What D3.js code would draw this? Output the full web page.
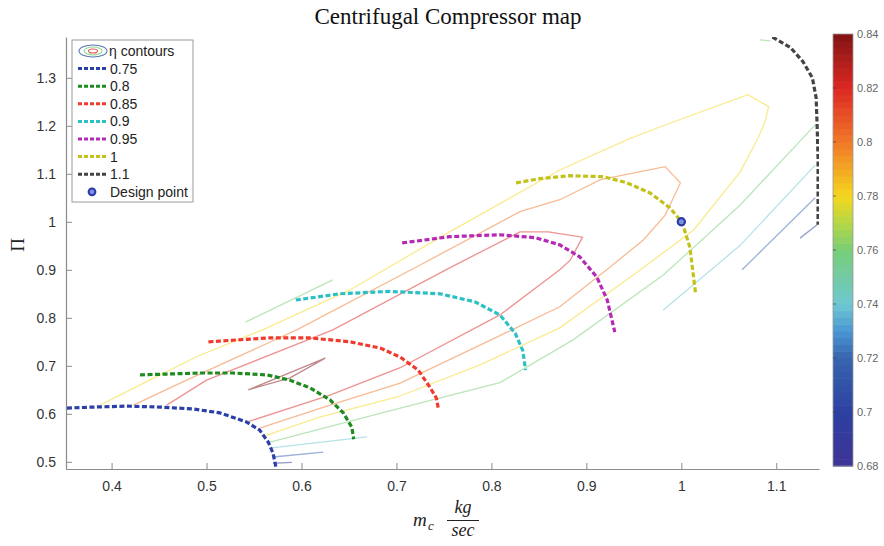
<!DOCTYPE html>
<html><head><meta charset="utf-8">
<script src="https://cdn.jsdelivr.net/npm/d3@7"></script>
<style>body{margin:0;background:#fff} svg{display:block}</style>
</head><body>
<svg id="chart" width="884" height="546"></svg>
<script>
// ---------- data ----------
const xTicks = [0.4, 0.5, 0.6, 0.7, 0.8, 0.9, 1, 1.1];
const yTicks = [0.5, 0.6, 0.7, 0.8, 0.9, 1, 1.1, 1.2, 1.3];
const cbTicks = [0.68, 0.7, 0.72, 0.74, 0.76, 0.78, 0.8, 0.82, 0.84];
const speedNames = ["0.75", "0.8", "0.85", "0.9", "0.95", "1", "1.1"];

// speed lines [m_c, Pi]
const speed075 = [[0.353,0.612],[0.380,0.614],[0.416,0.616],[0.451,0.614],[0.486,0.610],[0.514,0.602],[0.542,0.583],[0.556,0.566],[0.565,0.541],[0.570,0.518],[0.573,0.490]];
const speed080 = [[0.430,0.681],[0.493,0.685],[0.528,0.685],[0.564,0.681],[0.588,0.670],[0.609,0.654],[0.630,0.629],[0.644,0.602],[0.653,0.572],[0.655,0.547]];
const speed085 = [[0.502,0.750],[0.564,0.758],[0.609,0.758],[0.651,0.750],[0.683,0.737],[0.704,0.718],[0.723,0.691],[0.735,0.656],[0.742,0.633],[0.744,0.612]];
const speed090 = [[0.594,0.837],[0.640,0.850],[0.693,0.855],[0.746,0.850],[0.783,0.833],[0.809,0.806],[0.825,0.768],[0.833,0.732],[0.836,0.691]];
const speed095 = [[0.706,0.956],[0.756,0.969],[0.809,0.973],[0.846,0.967],[0.872,0.952],[0.893,0.927],[0.911,0.885],[0.922,0.837],[0.930,0.770]];
const speed100 = [[0.826,1.081],[0.851,1.090],[0.883,1.096],[0.918,1.094],[0.943,1.081],[0.967,1.060],[0.988,1.029],[1.001,0.998],[1.009,0.947],[1.012,0.899],[1.015,0.851]];
const speed110 = [[1.096,1.385],[1.115,1.363],[1.128,1.334],[1.138,1.300],[1.142,1.258],[1.143,1.202],[1.144,1.133],[1.144,1.062],[1.144,0.994]];
const speedColors = ["#2a3fa8", "#1f8a1f", "#f03a2e", "#2cc0c4", "#b52ab5", "#c2c21a", "#444444"];

// efficiency contours: level + polyline
const contourLevels = [0.78, 0.80, 0.82, 0.84, 0.76, 0.76, 0.76, 0.74, 0.74, 0.72, 0.72, 0.70, 0.70];
const c078 = [[0.388,0.618],[0.440,0.670],[0.493,0.722],[0.559,0.775],[0.651,0.858],[0.756,0.979],[0.872,1.108],[0.943,1.171],[0.978,1.198],[1.070,1.265],[1.092,1.240],[1.088,1.208],[1.081,1.175],[1.062,1.104],[1.013,0.983],[0.957,0.900],[0.872,0.779],[0.788,0.702],[0.701,0.635],[0.619,0.593],[0.558,0.552]];
const c080 = [[0.423,0.618],[0.479,0.670],[0.595,0.775],[0.725,0.910],[0.830,1.021],[0.872,1.046],[0.915,1.088],[0.983,1.115],[0.999,1.081],[0.983,1.014],[0.960,0.962],[0.925,0.906],[0.872,0.823],[0.788,0.743],[0.704,0.664],[0.630,0.618],[0.556,0.570]];
const c082 = [[0.458,0.618],[0.500,0.670],[0.633,0.775],[0.756,0.904],[0.830,0.979],[0.860,0.979],[0.896,0.968],[0.883,0.920],[0.872,0.900],[0.809,0.806],[0.704,0.696],[0.630,0.639],[0.543,0.583]];
const c084 = [[0.544,0.650],[0.625,0.716],[0.588,0.675],[0.544,0.650]];
const c076a = [[0.541,0.791],[0.633,0.879]];
const c076b = [[1.083,1.379],[1.094,1.377]];
const c076c = [[0.567,0.541],[0.704,0.612],[0.809,0.665],[0.886,0.754],[0.981,0.889],[1.062,1.035],[1.141,1.202]];
const c074a = [[0.569,0.529],[0.669,0.552]];
const c074b = [[0.981,0.816],[1.062,0.951],[1.141,1.118]];
const c072a = [[0.570,0.510],[0.623,0.520]];
const c072b = [[1.064,0.900],[1.141,1.050]];
const c070a = [[0.570,0.497],[0.590,0.499]];
const c070b = [[1.125,0.966],[1.143,0.994]];
const designPoint = [1.0, 1.0];

// ---------- drawing ----------
const speeds = [speed075, speed080, speed085, speed090, speed095, speed100, speed110];
const contours = [c078, c080, c082, c084, c076a, c076b, c076c, c074a, c074b, c072a, c072b, c070a, c070b];

const svg = d3.select("#chart");
const L = 66, R = 819, T = 37, B = 469;
const x = d3.scaleLinear().domain([0.352, 1.145]).range([L, R]);
const y = d3.scaleLinear().domain([0.485, 1.385]).range([B, T]);

const cmap = d3.scaleLinear()
  .domain([0.68, 0.70, 0.72, 0.73, 0.74, 0.76, 0.77, 0.78, 0.80, 0.82, 0.84])
  .range(["#3e3496", "#2d41a0", "#3764af", "#4b96d2", "#6ec8d2", "#78cd78", "#b4d746", "#f5d71e", "#f07828", "#dc2823", "#821414"])
  .interpolate(d3.interpolateRgb).clamp(true);

svg.append("defs").append("clipPath").attr("id", "clip")
  .append("rect").attr("x", L).attr("y", T).attr("width", R - L).attr("height", B - T);

const line = d3.line().x(d => x(d[0])).y(d => y(d[1]));
const plot = svg.append("g").attr("clip-path", "url(#clip)");

plot.selectAll("path.cont").data(contours).join("path")
  .attr("class", "cont")
  .attr("d", line)
  .attr("fill", "none")
  .attr("stroke", (d, i) => cmap(contourLevels[i]))
  .attr("stroke-opacity", 0.5)
  .attr("stroke-width", 1.3);

plot.selectAll("path.speed").data(speeds).join("path")
  .attr("class", "speed")
  .attr("d", line)
  .attr("fill", "none")
  .attr("stroke", (d, i) => speedColors[i])
  .attr("stroke-width", 3.2)
  .attr("stroke-dasharray", "5,2.5");

plot.append("circle")
  .attr("cx", x(designPoint[0])).attr("cy", y(designPoint[1])).attr("r", 3.6)
  .attr("fill", "#7f8fe0").attr("stroke", "#2a3aa8").attr("stroke-width", 2.2);

// axes
const tickFont = "'Liberation Sans', Arial, sans-serif";
const xAxis = svg.append("g").attr("transform", `translate(0,${B})`)
  .call(d3.axisBottom(x).tickValues(xTicks).tickFormat(d3.format("~g")).tickSizeInner(-6).tickSizeOuter(0).tickPadding(12));
const yAxis = svg.append("g").attr("transform", `translate(${L},0)`)
  .call(d3.axisLeft(y).tickValues(yTicks).tickFormat(d3.format("~g")).tickSizeInner(-6).tickSizeOuter(0).tickPadding(10));
[xAxis, yAxis].forEach(g => {
  g.select(".domain").attr("stroke", "#8a8a8a").attr("stroke-width", 1.2);
  g.selectAll(".tick line").attr("stroke", "#8a8a8a").attr("stroke-width", 1);
  g.selectAll(".tick text").attr("font-family", tickFont).attr("font-size", 14).attr("fill", "#333");
});

// colorbar
const cbX = 833, cbW = 20, cbT = 34, cbB = 466;
const cy = d3.scaleLinear().domain([0.68, 0.84]).range([cbB, cbT]);
const nBands = 64;
const bands = d3.range(nBands).map(i => 0.68 + (i + 0.5) * 0.16 / nBands);
svg.append("g").selectAll("rect").data(bands).join("rect")
  .attr("x", cbX).attr("width", cbW)
  .attr("y", d => cy(d + 0.08 / nBands))
  .attr("height", (cbB - cbT) / nBands + 0.6)
  .attr("fill", d => cmap(d));
svg.append("rect").attr("x", cbX).attr("y", cbT).attr("width", cbW).attr("height", cbB - cbT)
  .attr("fill", "none").attr("stroke", "#9a9a9a").attr("stroke-width", 0.8);
const cbAxis = svg.append("g").attr("transform", `translate(${cbX + cbW},0)`)
  .call(d3.axisRight(cy).tickValues(cbTicks).tickFormat(d3.format("~g")).tickSizeInner(0).tickSizeOuter(0).tickPadding(4));
cbAxis.select(".domain").remove();
cbAxis.selectAll(".tick text").attr("font-family", tickFont).attr("font-size", 11).attr("fill", "#666");
svg.append("g").selectAll("line").data(cbTicks.slice(1, -1)).join("line")
  .attr("x1", cbX).attr("x2", cbX + 3).attr("y1", d => cy(d)).attr("y2", d => cy(d))
  .attr("stroke", "#333").attr("stroke-opacity", 0.6);

// title
const serif = "'Liberation Serif', 'DejaVu Serif', serif";
svg.append("text").attr("x", 448).attr("y", 24).attr("text-anchor", "middle")
  .attr("font-family", serif).attr("font-size", 23).attr("fill", "#111")
  .text("Centrifugal Compressor map");

// y label
svg.append("text").attr("transform", "translate(24,245) rotate(-90)").attr("text-anchor", "middle")
  .attr("font-family", serif).attr("font-size", 19).attr("fill", "#222").text("Π");

// x label
const xl = svg.append("g").attr("font-family", serif).attr("font-style", "italic").attr("fill", "#222");
xl.append("text").attr("x", 413).attr("y", 526).attr("font-size", 19).text("m");
xl.append("text").attr("x", 428).attr("y", 530).attr("font-size", 13).text("c");
xl.append("text").attr("x", 463).attr("y", 513).attr("text-anchor", "middle").attr("font-size", 18).text("kg");
xl.append("line").attr("x1", 447).attr("x2", 479).attr("y1", 520.5).attr("y2", 520.5).attr("stroke", "#222").attr("stroke-width", 1);
xl.append("text").attr("x", 463).attr("y", 536).attr("text-anchor", "middle").attr("font-size", 18).text("sec");

// legend
const lg = svg.append("g");
lg.append("rect").attr("x", 72).attr("y", 40).attr("width", 121).attr("height", 162)
  .attr("fill", "#fff").attr("stroke", "#9a9a9a").attr("stroke-width", 1);
const rowY = i => 51 + i * 17.6;
[[14, 6, cmap(0.71)], [9, 4, cmap(0.76)], [4.5, 2, cmap(0.82)]].forEach(([rx, ry, c]) => {
  lg.append("ellipse").attr("cx", 93).attr("cy", rowY(0)).attr("rx", rx).attr("ry", ry)
    .attr("fill", "none").attr("stroke", c).attr("stroke-width", 1.1).attr("stroke-opacity", 0.8);
});
lg.append("text").attr("x", 109).attr("y", rowY(0)).attr("dy", "0.35em")
  .attr("font-family", tickFont).attr("font-size", 14).attr("fill", "#222").text("η contours");
speedNames.forEach((s, i) => {
  const yy = rowY(i + 1);
  lg.append("line").attr("x1", 78).attr("x2", 107).attr("y1", yy).attr("y2", yy)
    .attr("stroke", speedColors[i]).attr("stroke-width", 3).attr("stroke-dasharray", "4,2");
  lg.append("text").attr("x", 110).attr("y", yy).attr("dy", "0.35em")
    .attr("font-family", tickFont).attr("font-size", 14).attr("fill", "#222").text(s);
});
lg.append("circle").attr("cx", 92).attr("cy", rowY(8)).attr("r", 3.4)
  .attr("fill", "#7f8fe0").attr("stroke", "#2a3aa8").attr("stroke-width", 2);
lg.append("text").attr("x", 110).attr("y", rowY(8)).attr("dy", "0.35em")
  .attr("font-family", tickFont).attr("font-size", 14).attr("fill", "#222").text("Design point");
</script>
</body></html>
